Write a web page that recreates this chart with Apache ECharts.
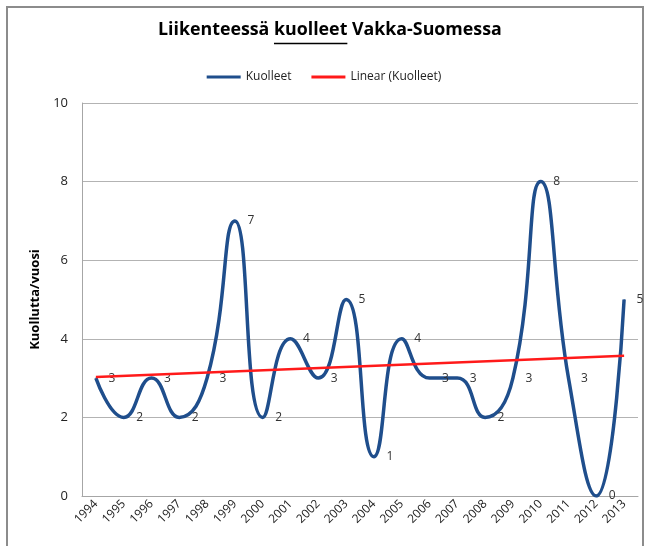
<!DOCTYPE html>
<html>
<head>
<meta charset="utf-8">
<title>Liikenteessä kuolleet Vakka-Suomessa</title>
<script src="https://cdn.jsdelivr.net/npm/echarts@6/dist/echarts.min.js"></script>
<style>
    html, body { margin: 0; padding: 0; background: #fff; }
    #chart { width: 648px; height: 546px; }
</style>
</head>
<body>
<div id="chart"></div>
<script>
    // vuodet
    var years = ['1994', '1995', '1996', '1997', '1998', '1999', '2000', '2001', '2002', '2003',
        '2004', '2005', '2006', '2007', '2008', '2009', '2010', '2011', '2012', '2013'];
    // kuolleet / vuosi
    var kuolleet = [3, 2, 3, 2, 3, 7, 2, 4, 3, 5, 1, 4, 3, 3, 2, 3, 8, 3, 0, 5];
    // trendiviivan päätepisteet kuvasta luettuna
    var trendYears = ['1994', '2013'];
    var trendValues = [3.03, 3.57];

    var font = '"Open Sans", Lato, sans-serif';
    var titleParts = ['Liikenteessä ', 'kuolleet', ' Vakka-Suomessa'];

    // mitataan otsikon leveys, jotta alleviivaus osuu oikeaan kohtaan
    var ctx = document.createElement('canvas').getContext('2d');
    ctx.font = 'bold 18px ' + font;
    var titleSize = 18 * 344 / ctx.measureText(titleParts.join('')).width;
    titleSize = Math.min(20, Math.max(15, titleSize));
    ctx.font = 'bold ' + titleSize + 'px ' + font;
    var titleLeft = 158;
    var ulStart = titleLeft + ctx.measureText(titleParts[0]).width;
    var ulEnd = ulStart + ctx.measureText(titleParts[1]).width;

    var myChart = echarts.init(document.getElementById('chart'));

    var option = {
        backgroundColor: '#fff',
        animation: false,
        textStyle: { fontFamily: font },
        title: {
            text: titleParts.join(''),
            left: titleLeft,
            top: 21,
            padding: 0,
            textStyle: { fontFamily: font, fontWeight: 'bold', fontSize: titleSize, color: '#000' }
        },
        legend: {
            top: 66,
            left: 'center',
            itemWidth: 34,
            itemHeight: 3,
            itemGap: 20,
            icon: 'rect',
            textStyle: { fontFamily: font, fontSize: 12, color: '#222' },
            data: [
                { name: 'Kuolleet', itemStyle: { color: '#1f4e8c' } },
                { name: 'Linear (Kuolleet)', itemStyle: { color: '#ff1a1a' } }
            ]
        },
        grid: {
            left: 82,
            right: 10,
            top: 103,
            bottom: 50
        },
        xAxis: {
            type: 'category',
            data: years,
            boundaryGap: true,
            axisLine: { lineStyle: { color: '#a6a6a6' } },
            axisTick: { show: false },
            axisLabel: {
                rotate: 45,
                interval: 0,
                margin: 6,
                fontSize: 12,
                color: '#222',
                fontFamily: font
            }
        },
        yAxis: {
            type: 'value',
            min: 0,
            max: 10,
            interval: 2,
            name: 'Kuollutta/vuosi',
            nameLocation: 'middle',
            nameGap: 26,
            nameTextStyle: { fontFamily: font, fontWeight: 'bold', fontSize: 13, color: '#000' },
            axisLine: { show: true, lineStyle: { color: '#a6a6a6' } },
            axisTick: { show: false },
            axisLabel: { fontSize: 13, color: '#222', margin: 14, fontFamily: font },
            splitLine: { lineStyle: { color: '#b3b3b3' } }
        },
        series: [
            {
                name: 'Kuolleet',
                type: 'line',
                data: kuolleet,
                smooth: 0.5,
                symbol: 'circle',
                symbolSize: 1,
                showSymbol: true,
                lineStyle: { color: '#1f4e8c', width: 3.5 },
                itemStyle: { color: '#1f4e8c' },
                label: {
                    show: true,
                    position: 'right',
                    distance: 12,
                    fontSize: 12,
                    color: '#333',
                    fontFamily: font
                },
                labelLayout: { hideOverlap: false },
                z: 2
            },
            {
                name: 'Linear (Kuolleet)',
                type: 'line',
                data: trendYears.map(function (y, i) { return [y, trendValues[i]]; }),
                symbol: 'none',
                lineStyle: { color: '#ff1a1a', width: 2.5 },
                itemStyle: { color: '#ff1a1a' },
                z: 3
            }
        ],
        graphic: [
            {
                type: 'rect',
                shape: { x: 7, y: 7, width: 636, height: 600 },
                style: { fill: 'none', stroke: '#8c8c8c', lineWidth: 2 },
                silent: true
            },
            {
                type: 'line',
                shape: { x1: ulStart, y1: 43.5, x2: ulEnd, y2: 43.5 },
                style: { stroke: '#000', lineWidth: 1.3 },
                silent: true
            }
        ]
    };

    myChart.setOption(option);
</script>
</body>
</html>
